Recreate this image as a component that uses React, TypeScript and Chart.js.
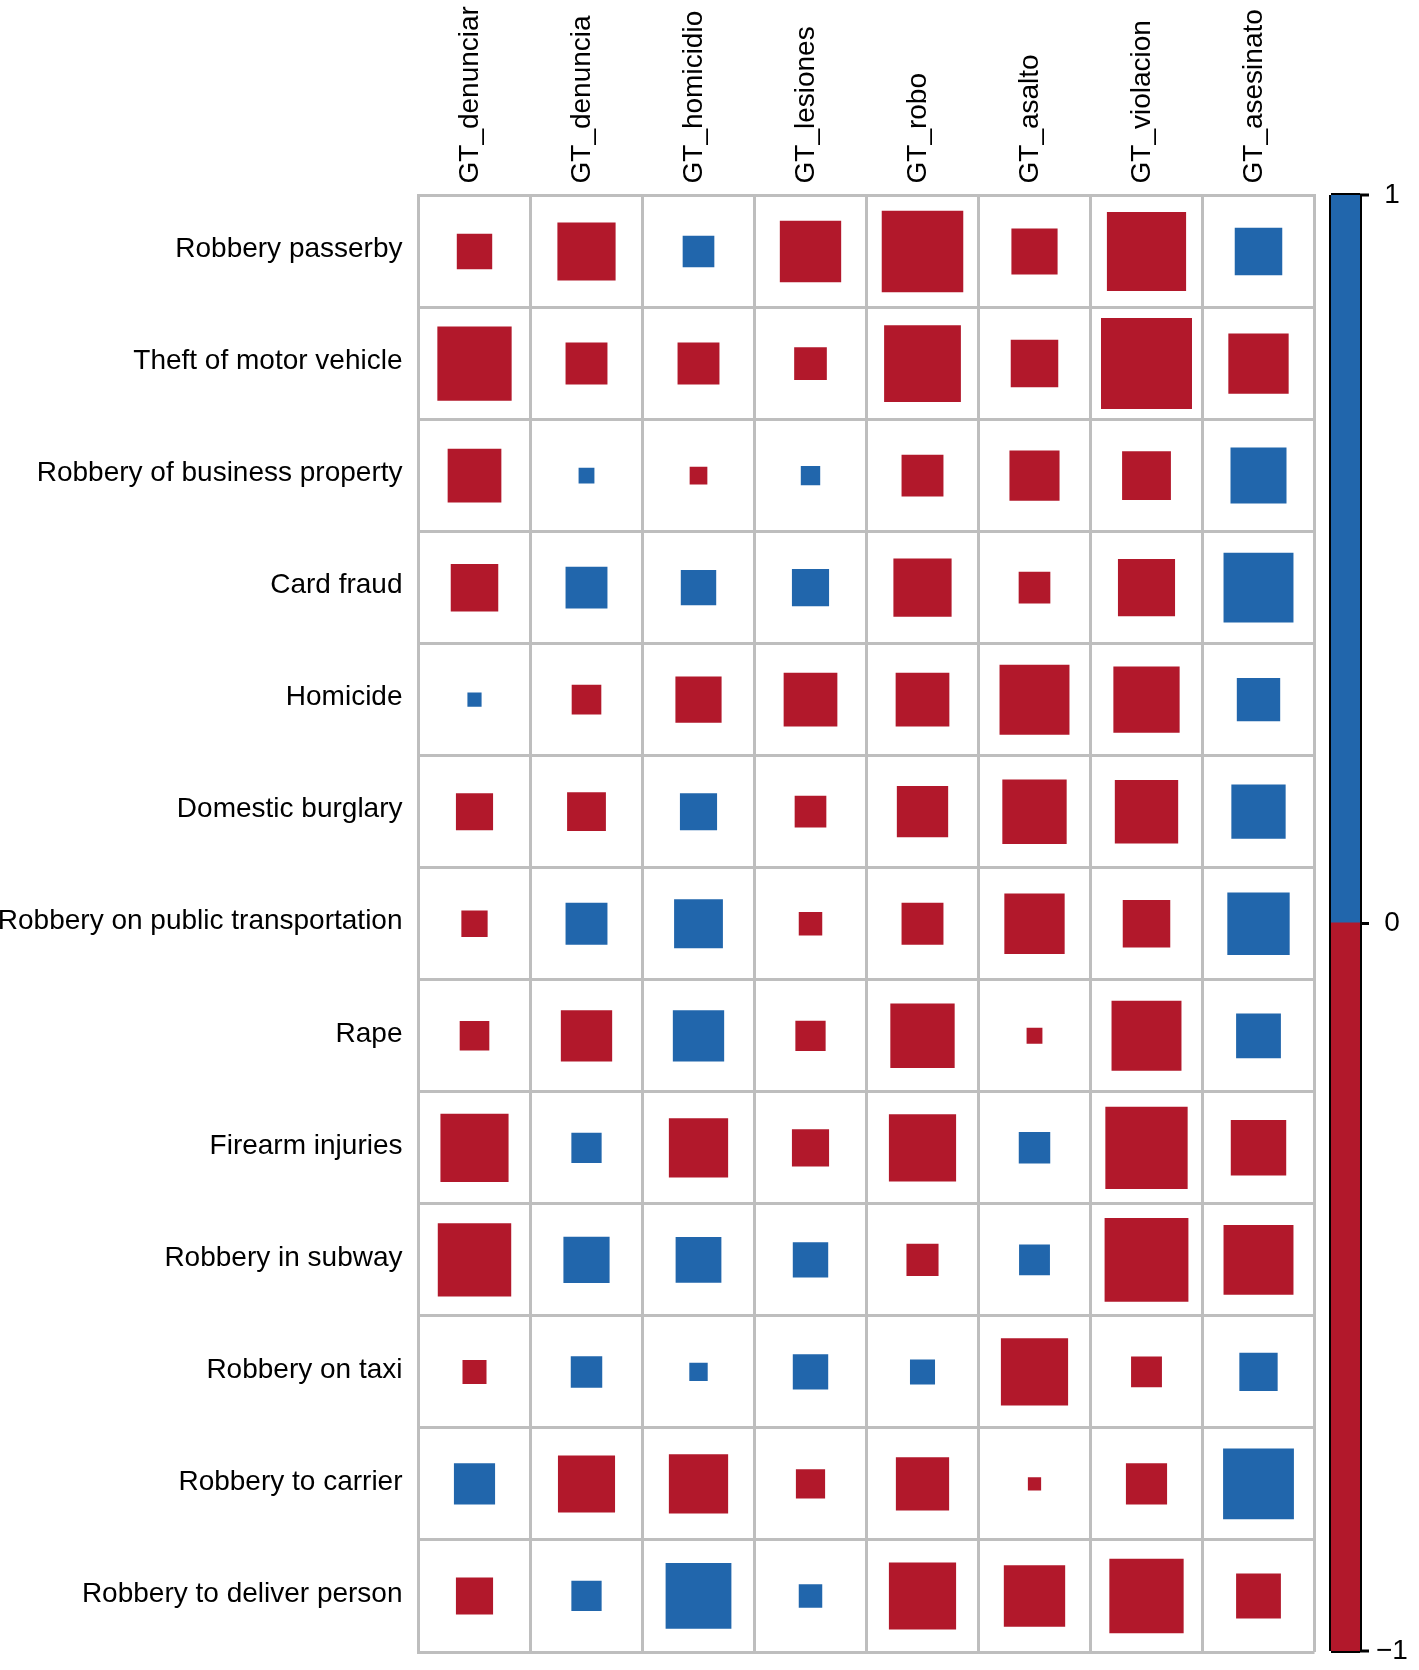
import React, { useEffect, useRef } from 'react';
import { Chart, registerables } from 'chart.js';

Chart.register(...registerables);

const COLUMNS = [
  'GT_denunciar',
  'GT_denuncia',
  'GT_homicidio',
  'GT_lesiones',
  'GT_robo',
  'GT_asalto',
  'GT_violacion',
  'GT_asesinato',
];

const ROWS = [
  'Robbery passerby',
  'Theft of motor vehicle',
  'Robbery of business property',
  'Card fraud',
  'Homicide',
  'Domestic burglary',
  'Robbery on public transportation',
  'Rape',
  'Firearm injuries',
  'Robbery in subway',
  'Robbery on taxi',
  'Robbery to carrier',
  'Robbery to deliver person',
];

// correlation values, one array per row, in COLUMNS order
const ROBBERY_PASSERBY = [-0.10, -0.27, 0.08, -0.30, -0.53, -0.17, -0.50, 0.18];
const THEFT_MOTOR_VEHICLE = [-0.44, -0.14, -0.14, -0.085, -0.47, -0.18, -0.66, -0.29];
const ROBBERY_BUSINESS = [-0.23, 0.02, -0.025, 0.03, -0.14, -0.20, -0.19, 0.25];
const CARD_FRAUD = [-0.18, 0.14, 0.10, 0.11, -0.27, -0.08, -0.26, 0.39];
const HOMICIDE = [0.016, -0.07, -0.17, -0.23, -0.23, -0.39, -0.35, 0.15];
const DOMESTIC_BURGLARY = [-0.11, -0.12, 0.11, -0.08, -0.21, -0.33, -0.32, 0.235];
const ROBBERY_PUBLIC_TRANSPORT = [-0.055, 0.14, 0.19, -0.044, -0.14, -0.29, -0.18, 0.31];
const RAPE = [-0.07, -0.21, 0.21, -0.073, -0.33, -0.02, -0.39, 0.16];
const FIREARM_INJURIES = [-0.37, 0.073, -0.28, -0.11, -0.36, 0.079, -0.54, -0.245];
const ROBBERY_SUBWAY = [-0.43, 0.17, 0.167, 0.10, -0.082, 0.076, -0.56, -0.39];
const ROBBERY_TAXI = [-0.046, 0.079, 0.027, 0.10, 0.05, -0.36, -0.076, 0.117];
const ROBBERY_CARRIER = [0.135, -0.26, -0.28, -0.068, -0.226, -0.014, -0.135, 0.40];
const ROBBERY_DELIVER = [-0.11, 0.073, 0.345, 0.044, -0.36, -0.30, -0.44, -0.16];

const MATRIX = [
  ROBBERY_PASSERBY,
  THEFT_MOTOR_VEHICLE,
  ROBBERY_BUSINESS,
  CARD_FRAUD,
  HOMICIDE,
  DOMESTIC_BURGLARY,
  ROBBERY_PUBLIC_TRANSPORT,
  RAPE,
  FIREARM_INJURIES,
  ROBBERY_SUBWAY,
  ROBBERY_TAXI,
  ROBBERY_CARRIER,
  ROBBERY_DELIVER,
];

const COLORBAR_TICKS = [-1, 0, 1];
const COLORBAR_POSITIVE = [0, 1];
const COLORBAR_NEGATIVE = [-1, 0];

const BLUE = '#2166AC';
const RED = '#B2182B';
const GRID = '#BEBEBE';
const FONT = { family: '"Liberation Sans", Arial, Helvetica, sans-serif', size: 28 };

const zeroPadding = (s: any) => {
  s.paddingTop = 0;
  s.paddingBottom = 0;
  s.paddingLeft = 0;
  s.paddingRight = 0;
};

const squareRadius = (ctx: any) => {
  const raw = ctx.raw;
  if (!raw) return 0;
  const xs = ctx.chart.scales.x;
  const cell = xs.width / COLUMNS.length;
  return (Math.sqrt(Math.abs(raw.v)) * cell) / Math.SQRT2;
};

export default function App() {
  const mainRef = useRef<HTMLCanvasElement>(null);
  const barRef = useRef<HTMLCanvasElement>(null);

  useEffect(() => {
    const points: any[] = [];
    ROWS.forEach((r, i) => {
      COLUMNS.forEach((c, j) => {
        points.push({ x: c, y: r, v: MATRIX[i][j] });
      });
    });

    const main = new Chart(mainRef.current as HTMLCanvasElement, {
      type: 'scatter',
      data: {
        datasets: [
          {
            data: points,
            pointStyle: 'rect',
            pointRadius: squareRadius,
            pointHoverRadius: squareRadius,
            pointBackgroundColor: (ctx: any) => (ctx.raw && ctx.raw.v >= 0 ? BLUE : RED),
            pointBorderWidth: 0,
          } as any,
        ],
      },
      options: {
        responsive: false,
        animation: false,
        events: [],
        layout: { padding: { left: 0, top: 0, right: 104.5, bottom: 18 } },
        plugins: { legend: { display: false }, tooltip: { enabled: false } },
        scales: {
          x: {
            type: 'category',
            labels: COLUMNS,
            position: 'top',
            offset: true,
            grid: { offset: true, color: GRID, lineWidth: 3, drawTicks: false },
            border: { display: true, color: GRID, width: 3 },
            ticks: {
              autoSkip: false,
              minRotation: 90,
              maxRotation: 90,
              font: FONT,
              color: '#000',
              padding: 12,
              labelOffset: 29,
            },
            afterFit: (s: any) => {
              s.height = 195.5;
              zeroPadding(s);
            },
          },
          y: {
            type: 'category',
            labels: ROWS,
            position: 'left',
            offset: true,
            grid: { offset: true, color: GRID, lineWidth: 3, drawTicks: false },
            border: { display: true, color: GRID, width: 3 },
            ticks: { autoSkip: false, font: FONT, color: '#000', padding: 16, labelOffset: -2 },
            afterFit: (s: any) => {
              s.width = 418.5;
              zeroPadding(s);
            },
          },
        } as any,
      },
    } as any);

    const bar = new Chart(barRef.current as HTMLCanvasElement, {
      type: 'bar',
      data: {
        labels: ['scale'],
        datasets: [
          {
            data: [COLORBAR_NEGATIVE],
            backgroundColor: RED,
            borderWidth: 0,
            inflateAmount: 2,
            grouped: false,
            barPercentage: 1,
            categoryPercentage: 1,
          } as any,
          {
            data: [COLORBAR_POSITIVE],
            backgroundColor: BLUE,
            borderWidth: 0,
            inflateAmount: 2,
            grouped: false,
            barPercentage: 1,
            categoryPercentage: 1,
          } as any,
        ],
      },
      options: {
        responsive: false,
        animation: false,
        events: [],
        layout: { padding: { left: 31, top: 195, right: 0, bottom: 19 } },
        plugins: { legend: { display: false }, tooltip: { enabled: false } },
        scales: {
          x: {
            type: 'category',
            offset: true,
            grid: { offset: true, color: '#000', lineWidth: 4, drawTicks: false },
            ticks: { display: false },
            border: { display: false },
            afterFit: (s: any) => {
              s.height = 0;
              zeroPadding(s);
            },
            z: 1,
          },
          y: {
            type: 'linear',
            position: 'right',
            min: -1,
            max: 1,
            afterBuildTicks: (s: any) => {
              s.ticks = COLORBAR_TICKS.map((v) => ({ value: v }));
            },
            ticks: {
              font: FONT,
              color: '#000',
              padding: 7,
              crossAlign: 'center',
              callback: (v: any) => (Number(v) < 0 ? '\u2212' + Math.abs(Number(v)) : String(v)),
            },
            grid: {
              color: (ctx: any) => (ctx.tick && ctx.tick.value === 0 ? 'rgba(0,0,0,0)' : '#000'),
              lineWidth: (ctx: any) => (ctx.tick && ctx.tick.value === 0 ? 3 : 4),
              tickLength: 9,
              tickColor: '#000',
              tickWidth: 3,
            },
            border: { display: false },
            afterFit: (s: any) => {
              s.width = 59;
              zeroPadding(s);
            },
            z: 1,
          },
        } as any,
      },
    } as any);

    return () => {
      main.destroy();
      bar.destroy();
    };
  }, []);

  return (
    <div>
      <canvas
        ref={mainRef}
        width={1419}
        height={1670}
        style={{ position: 'absolute', left: 0, top: 0 }}
      />
      <canvas
        ref={barRef}
        width={119}
        height={1670}
        style={{ position: 'absolute', left: 1300, top: 0 }}
      />
    </div>
  );
}
